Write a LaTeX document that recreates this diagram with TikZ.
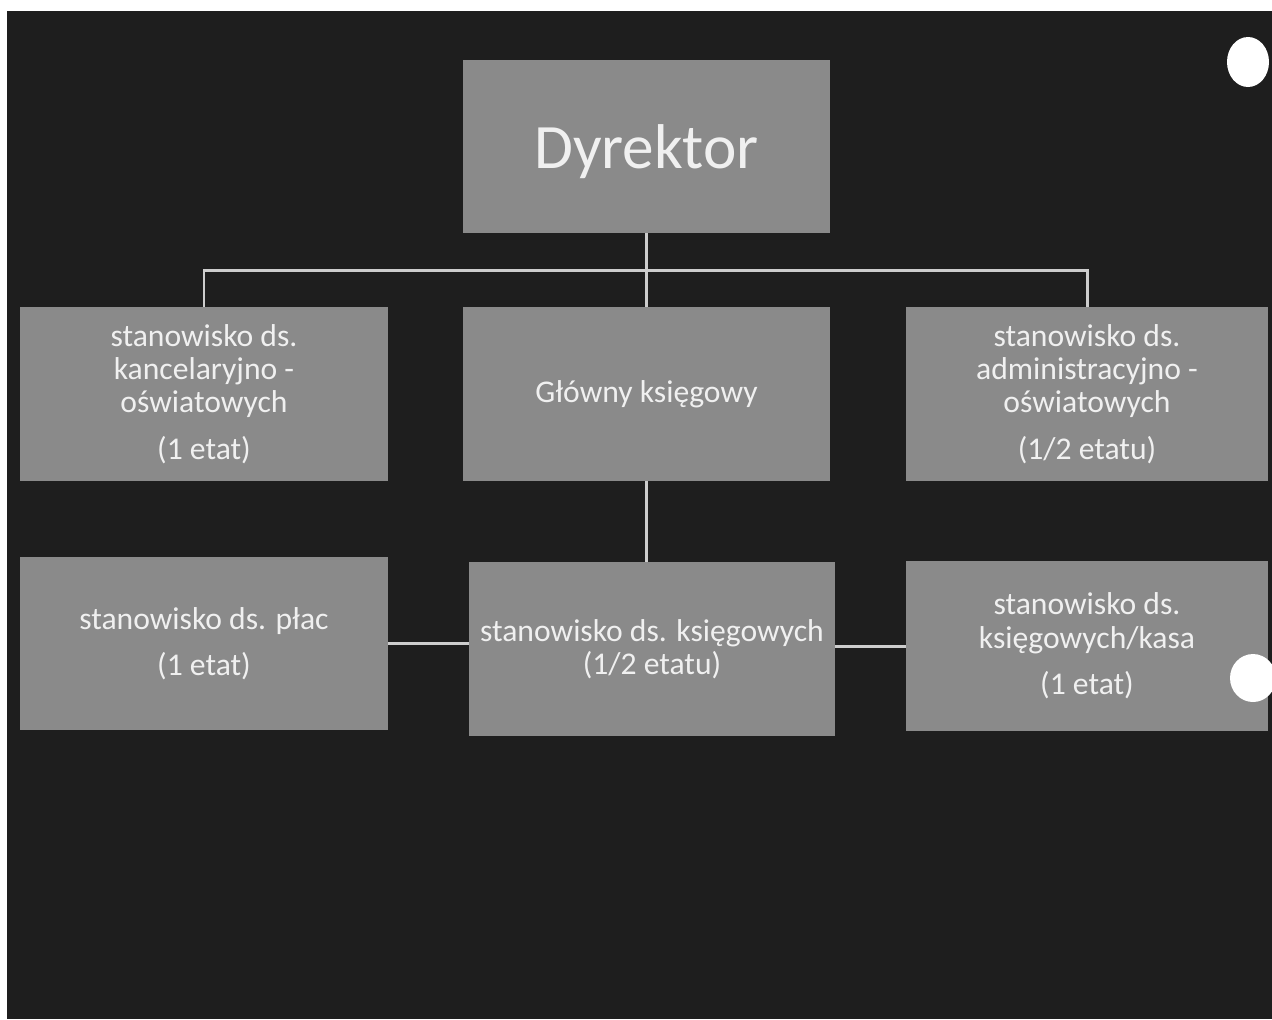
\documentclass[tikz,border=0pt]{standalone}
\usepackage{fontspec}
\setmainfont{Carlito}
\definecolor{tlo}{RGB}{30,30,30}
\definecolor{pole}{RGB}{138,138,138}
\definecolor{linia}{RGB}{205,205,205}
\begin{document}
\begin{tikzpicture}[
				x=0.02cm, y=-0.02cm,
				box/.style={fill=pole, text=white!94!black, align=center, inner sep=0pt,
					font=\fontsize{18}{19}\selectfont},
				wide/.style={box, minimum width=7.36cm, minimum height=3.48cm},
				narrow/.style={box, minimum width=7.24cm, minimum height=3.48cm},
				conn/.style={draw=linia, line width=1.7pt}
			]
			\useasboundingbox (0,0) rectangle (1272,1019);
			\fill[white] (0,0) rectangle (1272,1019);
			\fill[tlo] (7,11) rectangle (1272,1019);
			\node[wide, minimum width=7.34cm, minimum height=3.46cm, text depth=0pt, font=\fontsize{36}{40}\selectfont] (dyr) at (646.5,146.5) {Dyrektor};
			\node[wide] (kanc) at (204,394) {stanowisko ds.\\kancelaryjno -\\oświatowych\\[7.5pt](1 etat)};
			\node[wide, minimum width=7.34cm] (glow) at (646.5,394) {Główny księgowy};
			\node[narrow] (adm) at (1087,394) {stanowisko ds.\\administracyjno -\\oświatowych\\[7.5pt](1/2 etatu)};
			\node[wide, minimum height=3.46cm] (plac) at (204,643.5) {stanowisko ds. płac\\[7.5pt](1 etat)};
			\node[wide, minimum width=7.32cm] (ksieg) at (652,649) {stanowisko ds. księgowych\\(1/2 etatu)};
			\node[narrow, minimum height=3.42cm] (kasa) at (1087,646) {stanowisko ds.\\księgowych/kasa\\[7.5pt](1 etat)};
			\coordinate (bar) at (646,270);
			\draw[conn] (dyr.south) -- (glow.north);
			\draw[conn] (kanc.north) |- (bar) -| (adm.north);
			\draw[conn] (glow.south) -- (glow.south |- ksieg.north);
			\draw[conn] (plac.east) -- (plac.east -| ksieg.west);
			\draw[conn] (kasa.west) -- (kasa.west -| ksieg.east);
			\fill[white] (1248,62) ellipse [x radius=21, y radius=25];
			\fill[white] (1253,678) ellipse [x radius=23, y radius=24];
		\end{tikzpicture}
\end{document}
